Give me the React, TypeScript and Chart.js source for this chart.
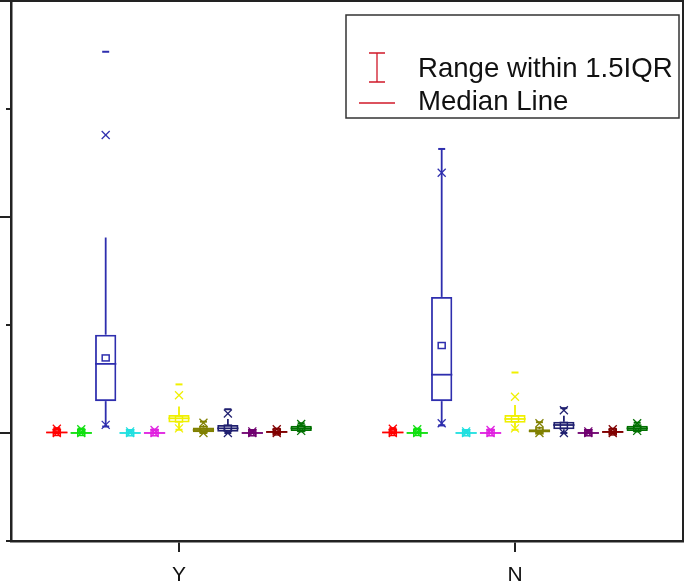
import React, { useEffect, useRef } from 'react';
import { Chart, registerables } from 'chart.js';

Chart.register(...registerables);

// Categories on the x axis
const categories = ['Y', 'N'];

// One box series per colour (11 series)
const seriesNames = ['S1', 'S2', 'S3', 'S4', 'S5', 'S6', 'S7', 'S8', 'S9', 'S10', 'S11'];
const seriesColors = [
  '#FF0000', '#10E010', '#2E2EAE', '#20E0E0', '#E020E0', '#F0F000',
  '#808000', '#202070', '#700070', '#800000', '#007000',
];

// Statistics, one row per series: [Y, N]
const minValues = [
  [0, 0], [0, 0], [0.6, 0.7], [0, 0], [0, 0], [0.3, 0.3],
  [0, 0], [0, 0], [0, 0], [0, 0], [0.15, 0.15],
];
const p1Values = [
  [0, 0], [0, 0], [0.75, 0.9], [0, 0], [0, 0], [0.43, 0.43],
  [0, 0], [0, 0], [0, 0], [0, 0], [0.2, 0.2],
];
const whiskerLowValues = [
  [0, 0], [0, 0], [0.6, 0.7], [0, 0], [0, 0], [0.3, 0.3],
  [0, 0], [0, 0], [0, 0], [0, 0], [0.18, 0.18],
];
const q1Values = [
  [0, 0], [0, 0], [2.95, 2.95], [0, 0], [0, 0], [0.97, 0.95],
  [0.08, 0.05], [0.12, 0.34], [0, 0], [0.02, 0.02], [0.18, 0.18],
];
const medianValues = [
  [0.05, 0.05], [0, 0], [6.4, 5.4], [0, 0], [0, 0], [1.36, 1.3],
  [0.28, 0.18], [0.43, 0.74], [0, 0], [0.1, 0.1], [0.43, 0.43],
];
const meanValues = [
  [0.05, 0.05], [0.05, 0.05], [6.95, 8.1], [0.02, 0.02], [0.02, 0.02], [1.3, 1.3],
  [0.3, 0.2], [0.45, 0.7], [0.02, 0.02], [0.1, 0.1], [0.45, 0.45],
];
const q3Values = [
  [0.1, 0.1], [0.08, 0.08], [9.1, 12.6], [0.05, 0.05], [0.05, 0.05], [1.66, 1.66],
  [0.5, 0.35], [0.74, 1.04], [0.05, 0.05], [0.15, 0.15], [0.67, 0.67],
];
const whiskerHighValues = [
  [0.25, 0.25], [0.2, 0.2], [18.1, 26.3], [0.1, 0.1], [0.12, 0.12], [2.45, 2.6],
  [0.75, 0.6], [1.3, 1.6], [0.1, 0.1], [0.2, 0.2], [0.75, 0.75],
];
const p99Values = [
  [0.4, 0.4], [0.35, 0.35], [27.6, 24.1], [0.15, 0.15], [0.28, 0.28], [3.5, 3.35],
  [0.95, 0.9], [1.8, 2.1], [0.15, 0.15], [0.35, 0.35], [0.83, 0.9],
];
const maxValues = [
  [0.45, 0.45], [0.4, 0.4], [35.3, 26.3], [0.2, 0.2], [0.32, 0.32], [4.5, 5.6],
  [1.05, 1.0], [2.2, 2.3], [0.2, 0.2], [0.4, 0.4], [0.9, 0.95],
];

// y axis range and tick step (ticks carry no labels)
const yMin = -10;
const yMax = 40;
const yStep = 10;
const yMajorEvery = 20;

const legendItems = ['Range within 1.5IQR', 'Median Line'];

const FONT = "'Liberation Sans', Arial, sans-serif";

const boxPlugin = {
  id: 'boxStats',
  afterDatasetsDraw(chart: any) {
    const y = chart.scales.y;
    const c = chart.ctx;
    const P = (v: number) => y.getPixelForValue(v);
    chart.data.datasets.forEach((ds: any, i: number) => {
      const meta = chart.getDatasetMeta(i);
      const color = seriesColors[i];
      meta.data.forEach((el: any, j: number) => {
        const x = el.x;
        const w = el.width;
        const line = (x1: number, y1: number, x2: number, y2: number) => {
          c.beginPath();
          c.moveTo(x1, y1);
          c.lineTo(x2, y2);
          c.stroke();
        };
        const cross = (cx: number, cy: number) => {
          const s = 4;
          line(cx - s, cy - s, cx + s, cy + s);
          line(cx - s, cy + s, cx + s, cy - s);
        };
        c.save();
        c.strokeStyle = color;
        c.lineWidth = 1.8;
        // whiskers
        line(x, P(q3Values[i][j]), x, P(whiskerHighValues[i][j]));
        line(x, P(q1Values[i][j]), x, P(whiskerLowValues[i][j]));
        // median
        line(x - w / 2, P(medianValues[i][j]), x + w / 2, P(medianValues[i][j]));
        // mean square
        const my = P(meanValues[i][j]);
        c.lineWidth = 1.5;
        c.strokeRect(x - 3.5, my - 3, 7, 6);
        // 1% / 99% markers
        c.lineWidth = 1.3;
        cross(x, P(p1Values[i][j]));
        cross(x, P(p99Values[i][j]));
        // min / max dashes
        c.lineWidth = 2;
        line(x - 3.5, P(minValues[i][j]), x + 3.5, P(minValues[i][j]));
        line(x - 3.5, P(maxValues[i][j]), x + 3.5, P(maxValues[i][j]));
        c.restore();
      });
    });
  },
  afterDraw(chart: any) {
    const c = chart.ctx;
    const a = chart.chartArea;
    const y = chart.scales.y;
    c.save();
    // frame (top and right)
    c.strokeStyle = '#222';
    c.lineWidth = 2;
    c.beginPath();
    c.moveTo(a.left, a.top);
    c.lineTo(a.right, a.top);
    c.lineTo(a.right, a.bottom);
    c.stroke();
    // y ticks, outward, long for majors
    c.lineWidth = 2;
    y.ticks.forEach((t: any) => {
      const py = y.getPixelForValue(t.value);
      const major = Math.abs(t.value % yMajorEvery) < 1e-9;
      c.beginPath();
      c.moveTo(a.left - (major ? 11 : 5), py);
      c.lineTo(a.left, py);
      c.stroke();
    });
    // legend box
    const lx = a.right - 337;
    const ly = a.top + 14;
    const lw = 333;
    const lh = 103;
    c.strokeStyle = '#333';
    c.lineWidth = 1.5;
    c.strokeRect(lx, ly, lw, lh);
    // range symbol (I)
    c.strokeStyle = '#D01828';
    c.lineWidth = 1.3;
    const sx = lx + 31;
    c.beginPath();
    c.moveTo(sx - 8, ly + 38); c.lineTo(sx + 8, ly + 38);
    c.moveTo(sx, ly + 38); c.lineTo(sx, ly + 67);
    c.moveTo(sx - 8, ly + 67); c.lineTo(sx + 8, ly + 67);
    c.stroke();
    // median symbol
    c.beginPath();
    c.moveTo(lx + 13, ly + 88); c.lineTo(lx + 49, ly + 88);
    c.stroke();
    c.fillStyle = '#111';
    c.font = `27.6px ${FONT}`;
    c.textBaseline = 'alphabetic';
    c.textAlign = 'left';
    c.fillText(legendItems[0], lx + 72, ly + 62);
    c.fillText(legendItems[1], lx + 72, ly + 95);
    c.restore();
  },
};

export default function App() {
  const ref = useRef<HTMLCanvasElement>(null);
  useEffect(() => {
    const canvas = ref.current!;
    const datasets = seriesNames.map((name, i) => ({
      label: name,
      data: categories.map((_, j) => [q1Values[i][j], q3Values[i][j]]),
      backgroundColor: 'rgba(255,255,255,0)',
      borderColor: seriesColors[i],
      borderWidth: 1.8,
      borderSkipped: false,
      barPercentage: 0.87,
      categoryPercentage: 0.8,
    }));
    const chart = new Chart(canvas, {
      type: 'bar',
      data: { labels: categories, datasets },
      options: {
        responsive: false,
        animation: false,
        layout: { padding: { left: 0, right: 2, top: 1, bottom: 0 } },
        plugins: { legend: { display: false }, tooltip: { enabled: false } },
        scales: {
          x: {
            type: 'category',
            offset: true,
            grid: {
              offset: false,
              drawOnChartArea: false,
              drawTicks: true,
              tickLength: 11,
              color: '#222',
              lineWidth: 2,
            },
            border: { display: true, color: '#222', width: 2.5 },
            ticks: {
              font: { family: FONT, size: 21 },
              color: '#111',
              padding: 11,
              maxRotation: 0,
            },
            afterFit: (s: any) => { s.height = 44; },
          },
          y: {
            min: yMin,
            max: yMax,
            ticks: { stepSize: yStep, display: false },
            grid: { display: false },
            border: { display: true, color: '#222', width: 2.5 },
            afterFit: (s: any) => { s.width = 11; },
          },
        },
      },
      plugins: [boxPlugin],
    } as any);
    return () => chart.destroy();
  }, []);
  return (
    <div style={{ position: 'fixed', left: 0, top: 0, width: 685, height: 585, background: '#fff' }}>
      <canvas ref={ref} width={685} height={585} style={{ display: 'block' }} />
    </div>
  );
}
